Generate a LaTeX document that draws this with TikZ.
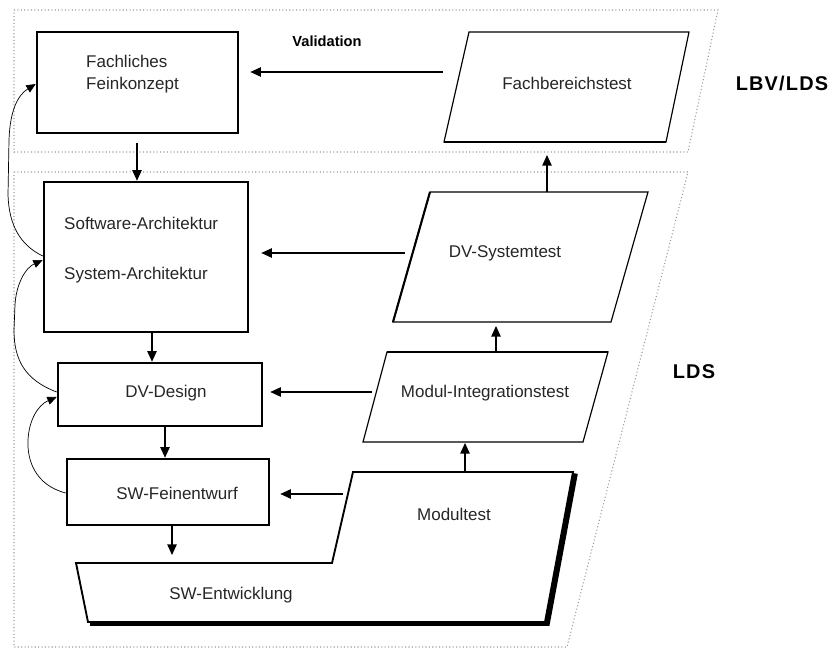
\documentclass[tikz,border=0pt]{standalone}
\usepackage{fontspec}
\setmainfont{Liberation Sans}
\newfontfamily\lblfont[LetterSpace=6]{Liberation Sans}
\usetikzlibrary{arrows.meta}
\begin{document}
\begin{tikzpicture}[x=0.03cm,y=-0.03cm,
 box/.style={draw, line width=2.2pt, inner sep=0pt},
 lbl/.style={font=\fontsize{14.5}{19}\selectfont, text=black!85, inner sep=0pt},
 arr/.style={line width=1pt, -{Triangle[length=9pt,width=8pt]}},
 fb/.style={line width=0.6pt, -{Triangle[length=8pt,width=7pt]}},
 region/.style={draw=gray!80, dotted, line width=0.9pt},
 para/.style={draw, line width=1pt, line join=miter},
 big/.style={font=\lblfont\bfseries\fontsize{17}{19}\selectfont, inner sep=0pt},
]
\useasboundingbox (0,0) rectangle (833,653);

% regions
\draw[region] (14,10) -- (718,10) -- (688,152) -- (14,152) -- cycle;
\draw[region] (14,172) -- (688,172) -- (567,647) -- (14,647) -- cycle;

% rectangular boxes
\node[box, minimum width=6.03cm, minimum height=3.03cm] (ff) at (137.5,82.5) {};
\node[box, minimum width=6.12cm, minimum height=4.5cm] (sa) at (146,257) {};
\node[box, minimum width=6.12cm, minimum height=1.89cm] (dvd) at (160,394.5) {};
\node[box, minimum width=6.06cm, minimum height=1.98cm] (swf) at (168,492) {};

\node[lbl, anchor=west, align=left] (fft) at (86,74) {Fachliches\\Feinkonzept};
\node[lbl, anchor=west] (sat1) at (64,223) {Software-Architektur};
\node[lbl, anchor=west] (sat2) at (64,275) {System-Architektur};
\node[lbl] (dvdt) at (166,393) {DV-Design};
\node[lbl] (swft) at (177,493) {SW-Feinentwurf};

% parallelograms
\draw[para] (469,32) -- (689,32) -- (666,142) -- (444,142) -- cycle;
\draw[line width=2pt] (444,142) -- (666,142);
\node[lbl] (fbt) at (567,83) {Fachbereichstest};

\draw[para] (430,192) -- (648,192) -- (611,322) -- (393,322) -- cycle;
\draw[line width=1.8pt] (430,192) -- (393,322);
\node[lbl] (dvs) at (505,253) {DV-Systemtest};

\draw[para] (387,352) -- (608,352) -- (583,442) -- (363,442) -- cycle;
\draw[line width=2pt] (387,352) -- (608,352);
\node[lbl] (mi) at (485,393) {Modul-Integrationstest};

% Modultest / SW-Entwicklung
\draw[line width=4pt] (90,623.5) -- (547.5,623.5) -- (575.5,473.5);
\draw[line width=1.6pt, line join=miter] (76,563) -- (332,563) -- (353,472) -- (573,472) -- (545,622) -- (88,622) -- cycle;
\node[lbl] (mt) at (454,514) {Modultest};
\node[lbl] (swe) at (231,595) {SW-Entwicklung};

% texts
\node[font=\bfseries\fontsize{12.5}{14}\selectfont, inner sep=0pt] (val) at (327,41) {Validation};
\node[big] (lbv) at (782,83) {LBV/LDS};
\node[big] (lds) at (694,372) {LDS};

% connector end points
\coordinate (fbtL) at (443,72);
\coordinate (fbtB) at (547,142);
\coordinate (dvsT) at (547,192);
\coordinate (dvsL) at (405,253);
\coordinate (dvsB) at (496,322);
\coordinate (miT) at (496,352);
\coordinate (miL) at (372,392);
\coordinate (miB) at (465,442);
\coordinate (mtT) at (465,472);
\coordinate (mtL) at (343,494);
\coordinate (sweT) at (172,563);

% straight connectors
\draw[arr, shorten >=0.33cm] (fbtL) -- (ff.east |- fbtL);
\draw[arr, shorten <=0.27cm] (ff.south -| 137,0) -- (sa.north -| 137,0);
\draw[arr, shorten >=0.39cm] (dvsT) -- (fbtB);
\draw[arr, shorten >=0.36cm] (dvsL) -- (sa.east |- dvsL);
\draw[arr, shorten >=0.12cm] (miT) -- (dvsB);
\draw[arr, shorten >=0.21cm] (miL) -- (dvd.east |- miL);
\draw[arr] (sa.south -| 152,0) -- (dvd.north -| 152,0);
\draw[arr] (dvd.south -| 165,0) -- (swf.north -| 165,0);
\draw[arr, shorten >=0.3cm] (mtL) -- (swf.east |- mtL);
\draw[arr, shorten >=0.03cm] (mtT) -- (miB);
\draw[arr, shorten >=0.24cm] (swf.south -| 172,0) -- (sweT);

% feedback curves
\draw[fb] (sa.west |- 0,256) .. controls (20,245) and (9,225) .. (8,195) -- (9,140) .. controls (10,110) and (18,95) .. (ff.west |- 0,84);
\draw[fb] (dvd.west |- 0,392) .. controls (25,380) and (14,360) .. (14,330) -- (15,305) .. controls (16,285) and (25,268) .. (sa.west |- 0,260);
\draw[fb] (swf.west |- 0,493) .. controls (35,485) and (27,460) .. (28,440) .. controls (29,420) and (38,405) .. (dvd.west |- 0,397);
\end{tikzpicture}
\end{document}
